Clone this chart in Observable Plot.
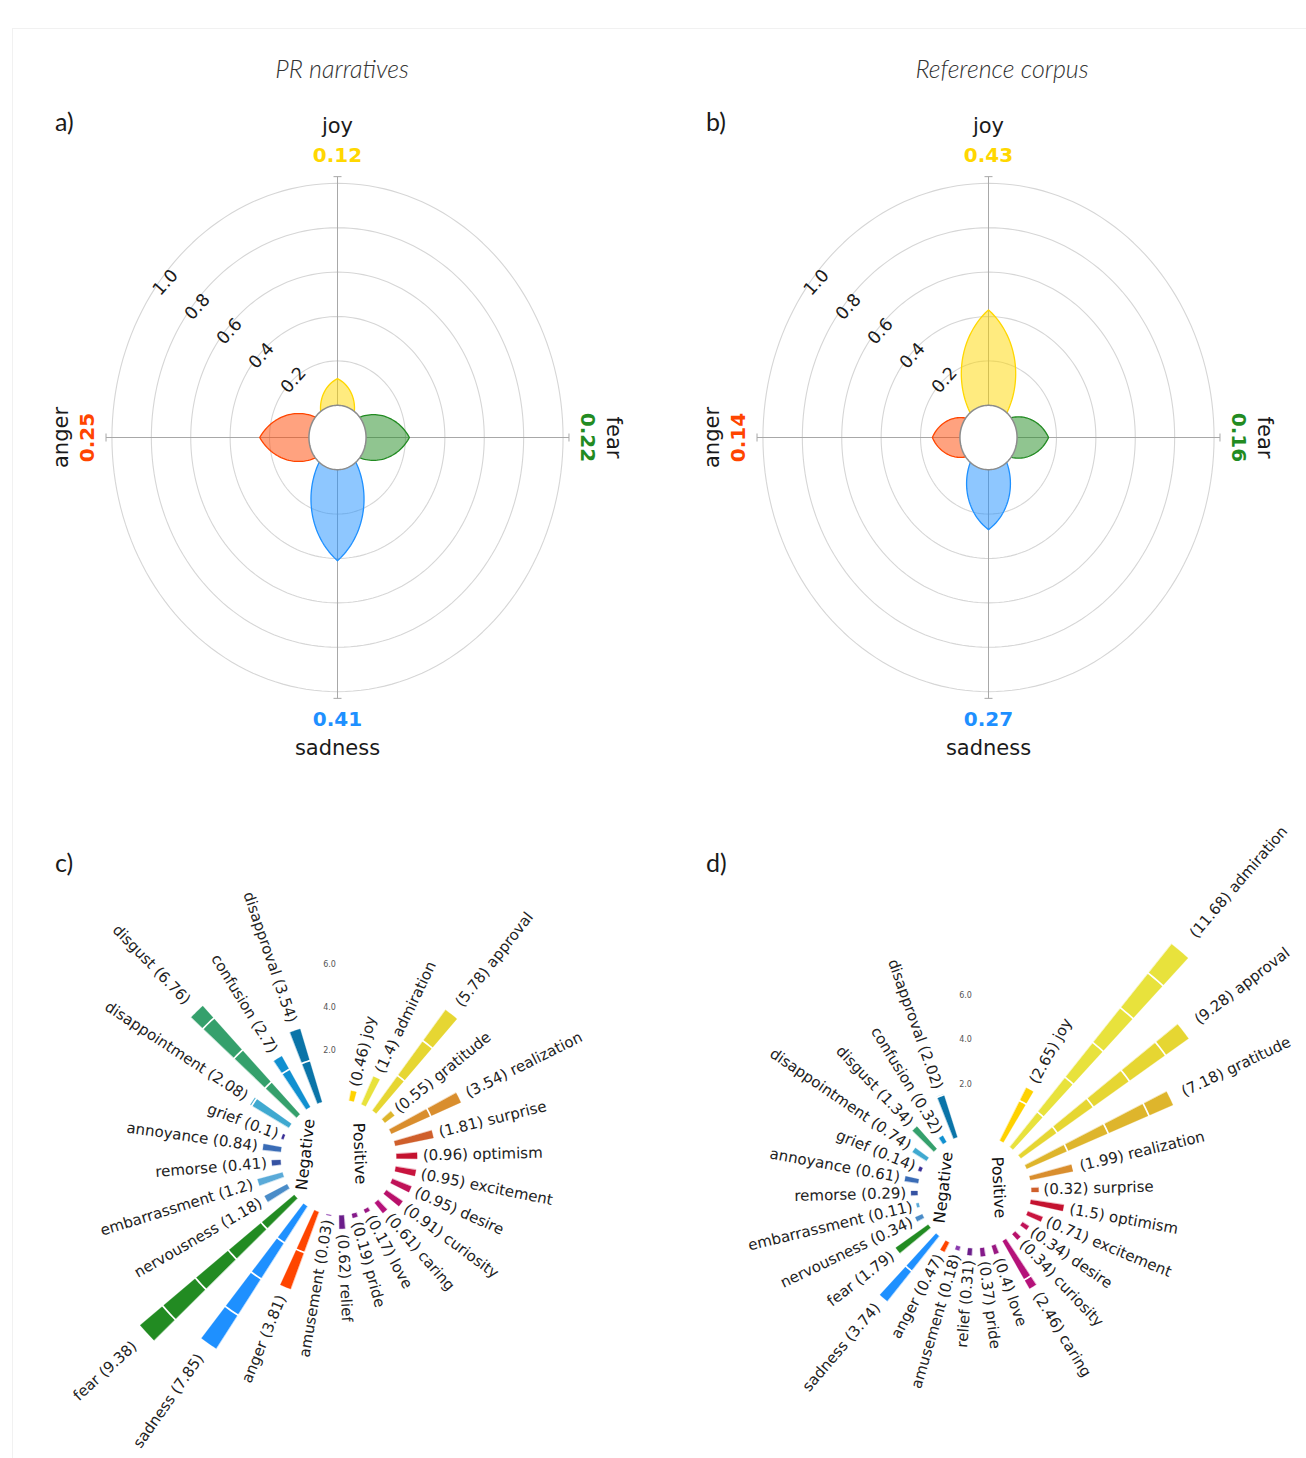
<!DOCTYPE html>
<html><head><meta charset="utf-8">
<script src="https://cdn.jsdelivr.net/npm/d3@7"></script>
<script src="https://cdn.jsdelivr.net/npm/@observablehq/plot@0.6"></script>
<style>
body{margin:0;background:#fff;}
#page{position:relative;width:1306px;height:1458px;overflow:hidden;background:#fff;font-family:"DejaVu Sans",sans-serif;}
.frame{position:absolute;left:12px;top:28px;width:1400px;height:1500px;border-left:1px solid #f1f1f1;border-top:1px solid #f1f1f1;}
.title{position:absolute;font-family:Lato,sans-serif;font-style:italic;font-weight:300;font-size:25px;color:#333;transform:translate(-50%,-50%);white-space:nowrap;}
.letter{position:absolute;font-family:Lato,sans-serif;font-weight:400;font-size:25px;color:#1a1a1a;transform:translate(0,-50%);white-space:nowrap;}
svg{position:absolute;}
</style></head>
<body><div id="page"><div class="frame"></div></div>
<script>
// ---------- data ----------
const basicEmotions = ["joy", "fear", "sadness", "anger"];
const basicAngles = [0, 90, 180, 270];
const basicColors = ["#FFD700", "#228B22", "#1E90FF", "#FF4500"];
const prBasic = [0.12, 0.22, 0.41, 0.25];
const refBasic = [0.43, 0.16, 0.27, 0.14];
const ringTicks = [0.2, 0.4, 0.6, 0.8, 1.0];

const emotions = ["joy","admiration","approval","gratitude","realization","surprise","optimism","excitement","desire","curiosity","caring","love","pride","relief","amusement",
  "anger","sadness","fear","nervousness","embarrassment","remorse","annoyance","grief","disappointment","disgust","confusion","disapproval"];
const groups = ["Positive","Positive","Positive","Positive","Positive","Positive","Positive","Positive","Positive","Positive","Positive","Positive","Positive","Positive","Positive",
  "Negative","Negative","Negative","Negative","Negative","Negative","Negative","Negative","Negative","Negative","Negative","Negative"];
const prValues = [0.46,1.4,5.78,0.55,3.54,1.81,0.96,0.95,0.95,0.91,0.61,0.17,0.19,0.62,0.03,
  3.81,7.85,9.38,1.18,1.2,0.41,0.84,0.1,2.08,6.76,2.7,3.54];
const refValues = [2.65,11.68,9.28,7.18,1.99,0.32,1.5,0.71,0.34,0.34,2.46,0.4,0.37,0.31,0.18,
  0.47,3.74,1.79,0.34,0.11,0.29,0.61,0.14,0.74,1.34,0.32,2.02];
const emotionColors = ["#FFD200","#E8E23C","#E6D632","#DEB52C","#D98E2E","#CF5F2B","#C4122F","#C8143E","#C01258","#B8106A","#B5127A","#9A1882","#851A8A","#6B1D8A","#8A3AAE",
  "#FF4500","#1E90FF","#228B22","#4A8CC8","#5AAAD8","#3552A2","#3A6CB6","#3A2F96","#3FA9D0","#35A06C","#1090D0","#0A74A8"];
const barTicks = [2, 4, 6];

// ---------- helpers ----------
const page = document.getElementById("page");
const rad = d => d * Math.PI / 180;
const P = (r, deg) => ({x: r * Math.sin(rad(deg)), y: r * Math.cos(rad(deg))});
function circle(r, key, step = 2) { return d3.range(0, 360, step).map(a => ({key, ...P(r, a)})); }
function addDiv(text, cls, left, top) {
  const d = document.createElement("div"); d.className = cls; d.textContent = text;
  d.style.left = left + "px"; d.style.top = top + "px"; page.appendChild(d);
}
function place(svg, left, top) { svg.style.left = left + "px"; svg.style.top = top + "px"; page.appendChild(svg); }

function lens(angle, L, halfW, n = 40) {
  const R = (L * L / 4 + halfW * halfW) / (2 * halfW);
  const prof = s => Math.sqrt(Math.max(0, R * R - (s - L / 2) ** 2)) - (R - halfW);
  const pts = [];
  for (let i = 0; i <= n; i++) { const s = L * i / n; pts.push([s, prof(s)]); }
  for (let i = n; i >= 0; i--) { const s = L * i / n; pts.push([s, -prof(s)]); }
  const ux = Math.sin(rad(angle)), uy = Math.cos(rad(angle));
  const nx = Math.cos(rad(angle)), ny = -Math.sin(rad(angle));
  return pts.map(([s, p]) => ({x: s * ux + p * nx, y: s * uy + p * ny}));
}

// ---------- panels a / b ----------
function rosePanel(values, o) {
  const {w, h, cx, cy} = o;
  const SX = 197, SY = 222, HOLE = 0.145, EXT = HOLE + 1.03;
  const rows = basicEmotions.map((e, i) => ({emotion: e, angle: basicAngles[i], value: values[i], color: basicColors[i]}));
  const rings = ringTicks.flatMap(v => circle(HOLE + v, v));
  const axes = [{x1: -EXT, y1: 0, x2: EXT, y2: 0}, {x1: 0, y1: -EXT, x2: 0, y2: EXT}];
  const tx = 4 / SX, ty = 4 / SY;
  const endTicks = [
    {x1: -EXT, x2: -EXT, y1: -ty, y2: ty}, {x1: EXT, x2: EXT, y1: -ty, y2: ty},
    {x1: -tx, x2: tx, y1: EXT, y2: EXT}, {x1: -tx, x2: tx, y1: -EXT, y2: -EXT}
  ];
  const petals = rows.map(d => {
    const L = HOLE + d.value;
    return Plot.line(lens(d.angle, L, 0.042 + 0.167 * L), {x: "x", y: "y", curve: "linear-closed",
      fill: d.color, fillOpacity: 0.5, stroke: d.color, strokeWidth: 1.3});
  });
  const ringLabels = ringTicks.map(v => ({text: v.toFixed(1), x: -(12 + 160 * v) / SX, y: (33 + 122 * v) / SY}));
  const nameR = 1.40, valR = 1.27;
  const rot = a => a === 90 ? 90 : a === 270 ? -90 : 0;
  const names = rows.map(d => ({...P(nameR, d.angle), text: d.emotion, rot: rot(d.angle)}));
  const vals = rows.map(d => ({...P(valR, d.angle), text: d.value.toFixed(2), rot: rot(d.angle), color: d.color}));
  return Plot.plot({
    width: w, height: h, margin: 0,
    style: {fontFamily: "DejaVu Sans", background: "transparent", overflow: "visible"},
    x: {domain: [-cx / SX, (w - cx) / SX], axis: null},
    y: {domain: [-(h - cy) / SY, cy / SY], axis: null},
    color: {type: "identity"},
    marks: [
      Plot.line(rings, {x: "x", y: "y", z: "key", curve: "linear-closed", stroke: "#d6d6d6", strokeWidth: 1.1}),
      Plot.link(axes, {x1: "x1", y1: "y1", x2: "x2", y2: "y2", stroke: "#a8a8a8", strokeWidth: 1}),
      Plot.link(endTicks, {x1: "x1", y1: "y1", x2: "x2", y2: "y2", stroke: "#a8a8a8", strokeWidth: 1}),
      ...petals,
      Plot.line(circle(HOLE, "hole"), {x: "x", y: "y", curve: "linear-closed", fill: "white", stroke: "#8c8c8c", strokeWidth: 1.5}),
      Plot.text(ringLabels, {x: "x", y: "y", text: "text", rotate: -48, fontSize: 17.5, fill: "#1a1a1a"}),
      Plot.text(names, {x: "x", y: "y", text: "text", rotate: "rot", fontSize: 21, fill: "#1a1a1a"}),
      Plot.text(vals, {x: "x", y: "y", text: "text", rotate: "rot", fontSize: 20, fontWeight: "bold", fill: "color"})
    ]
  });
}

// ---------- panels c / d ----------
function barPanel(values, o) {
  const {w, h, cx, cy, start, step, bw, s, R0, posLab, negLab} = o;
  const rows = emotions.map((e, i) => ({emotion: e, group: groups[i], value: values[i], color: emotionColors[i], angle: start + i * step}));
  rows.forEach(d => { d.r1 = R0 + s * d.value; });
  const bars = rows.map(d => {
    const a0 = d.angle - bw / 2, a1 = d.angle + bw / 2, pts = [];
    for (let k = 0; k <= 6; k++) pts.push(P(R0, a0 + (a1 - a0) * k / 6));
    for (let k = 6; k >= 0; k--) pts.push(P(d.r1, a0 + (a1 - a0) * k / 6));
    return Plot.line(pts, {x: "x", y: "y", curve: "linear-closed", fill: d.color, stroke: d.color, strokeWidth: 0.3});
  });
  const seps = d3.range(2, d3.max(values), 2).flatMap(k => circle(R0 + s * k, k, 1));
  const right = rows.filter(d => d.angle <= 180).map(d => ({...P(1.06 * d.r1 + 1, d.angle), text: `(${d.value}) ${d.emotion}`, rot: d.angle - 90}));
  const left = rows.filter(d => d.angle > 180).map(d => ({...P(1.06 * d.r1 + 1, d.angle), text: `${d.emotion} (${d.value})`, rot: d.angle - 270}));
  const ticks = barTicks.map(v => ({x: -9, y: R0 + s * v + 6, text: v.toFixed(1)}));
  const grp = [{text: "Positive", ...posLab}, {text: "Negative", ...negLab}];
  return Plot.plot({
    width: w, height: h, margin: 0,
    style: {fontFamily: "DejaVu Sans", background: "transparent"},
    x: {domain: [-cx, w - cx], axis: null},
    y: {domain: [-(h - cy), cy], axis: null},
    marks: [
      ...bars,
      Plot.line(seps, {x: "x", y: "y", z: "key", curve: "linear-closed", stroke: "white", strokeWidth: 1.7}),
      Plot.text(ticks, {x: "x", y: "y", text: "text", fontSize: 8, fill: "#555"}),
      Plot.text(right, {x: "x", y: "y", text: "text", rotate: "rot", textAnchor: "start", fontSize: 15, fill: "#222"}),
      Plot.text(left, {x: "x", y: "y", text: "text", rotate: "rot", textAnchor: "end", fontSize: 15, fill: "#222"}),
      Plot.text(grp, {x: "x", y: "y", text: "text", rotate: "rot", fontSize: 16, fill: "#111"})
    ]
  });
}

// ---------- layout ----------
addDiv("PR narratives", "title", 342, 68);
addDiv("Reference corpus", "title", 1002, 68);
addDiv("a)", "letter", 55, 121);
addDiv("b)", "letter", 706, 121);
addDiv("c)", "letter", 55, 862);
addDiv("d)", "letter", 706, 862);

place(rosePanel(prBasic, {w: 653, h: 690, cx: 337, cy: 347}), 0, 90);
place(rosePanel(refBasic, {w: 653, h: 690, cx: 335, cy: 347}), 653, 90);
place(barPanel(prValues, {w: 653, h: 668, cx: 338, cy: 367, start: 13, step: 12.62, bw: 4.5, s: 21.5, R0: 58,
  posLab: {x: 21, y: 4, rot: 87.7}, negLab: {x: -33, y: 3, rot: -83.7}}), 0, 790);
place(barPanel(refValues, {w: 653, h: 668, cx: 321, cy: 401, start: 28.5, step: 12, bw: 3.9, s: 22.2, R0: 57,
  posLab: {x: 24, y: 4, rot: 87}, negLab: {x: -31, y: 4, rot: -83.5}}), 653, 790);
</script>
</body></html>
